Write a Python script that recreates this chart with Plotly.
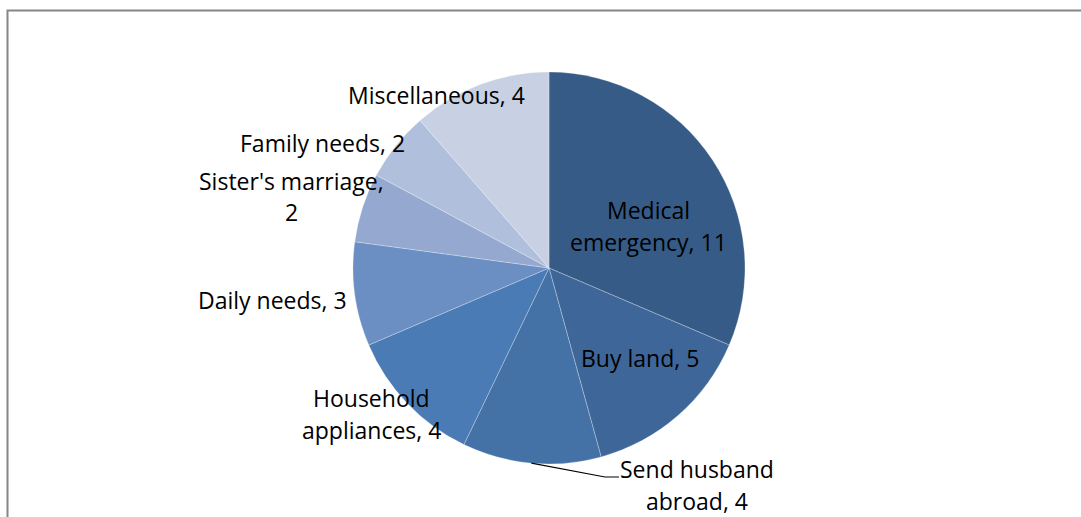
import math
import plotly.graph_objects as go

# Loan purposes and number of respondents, clockwise from 12 o'clock
purposes = ["Medical emergency", "Buy land", "Send husband abroad",
            "Household appliances", "Daily needs", "Sister's marriage",
            "Family needs", "Miscellaneous"]
counts = [11, 5, 4, 4, 3, 2, 2, 4]
colors = ["#375B87", "#3F6699", "#4472A6", "#4A7BB4",
          "#6B8FC3", "#95A9D0", "#B0C0DC", "#C8D0E3"]

W, H = 1081, 517
CX, CY, R = 549, 268, 196  # pie centre and radius in pixels


def px(x):
    return x / W


def py(y):
    return 1 - y / H


fig = go.Figure(go.Pie(
    labels=purposes,
    values=counts,
    sort=False,
    direction="clockwise",
    rotation=0,
    marker=dict(colors=colors, line=dict(color="rgba(255,255,255,0.45)", width=0.6)),
    textinfo="none",
    hoverinfo="label+value",
    showlegend=False,
    domain=dict(x=[px(CX - R), px(CX + R)], y=[py(CY + R), py(CY - R)]),
))

# Label layout: line breaks and pixel centre of each text line
label_lines = {
    "Medical emergency": (["Medical", "emergency, {v}"], [(648, 210), (648, 242)]),
    "Buy land": (["Buy land, {v}"], [(640, 358)]),
    "Send husband abroad": (["Send husband", "abroad, {v}"], [(697, 469), (697, 501)]),
    "Household appliances": (["Household", "appliances, {v}"], [(371, 398), (371, 430)]),
    "Daily needs": (["Daily needs, {v}"], [(272, 300)]),
    "Sister's marriage": (["Sister's marriage,", "{v}"], [(291, 181), (291, 212)]),
    "Family needs": (["Family needs, {v}"], [(322, 143)]),
    "Miscellaneous": (["Miscellaneous, {v}"], [(437, 95)]),
}

font = dict(family="'Open Sans', Lato, sans-serif", size=23, color="#000000")
for name, v in zip(purposes, counts):
    lines, pos = label_lines[name]
    for text, (x, y) in zip(lines, pos):
        fig.add_annotation(x=px(x), y=py(y), xref="paper", yref="paper",
                           text=text.format(v=v), showarrow=False,
                           xanchor="center", yanchor="middle", font=font)

# Leader line for the "Send husband abroad" label, starting at the slice mid-angle
total = sum(counts)
idx = purposes.index("Send husband abroad")
mid = (sum(counts[:idx]) + counts[idx] / 2) / total * 2 * math.pi
sx, sy = CX + R * math.sin(mid), CY - R * math.cos(mid)
fig.add_shape(type="path", xref="paper", yref="paper",
              path=f"M {px(sx)} {py(sy)} L {px(605)} {py(477)} L {px(619)} {py(477)}",
              line=dict(color="#000000", width=1.2))

# Chart-area frame
fig.add_shape(type="rect", xref="paper", yref="paper",
              x0=px(7.5), y0=-0.05, x1=1.05, y1=py(10.5),
              line=dict(color="#868686", width=2), fillcolor="rgba(0,0,0,0)")

fig.update_layout(
    width=W, height=H,
    margin=dict(l=0, r=0, t=0, b=0),
    paper_bgcolor="#FFFFFF",
    plot_bgcolor="#FFFFFF",
)

fig.write_html("out.html")
